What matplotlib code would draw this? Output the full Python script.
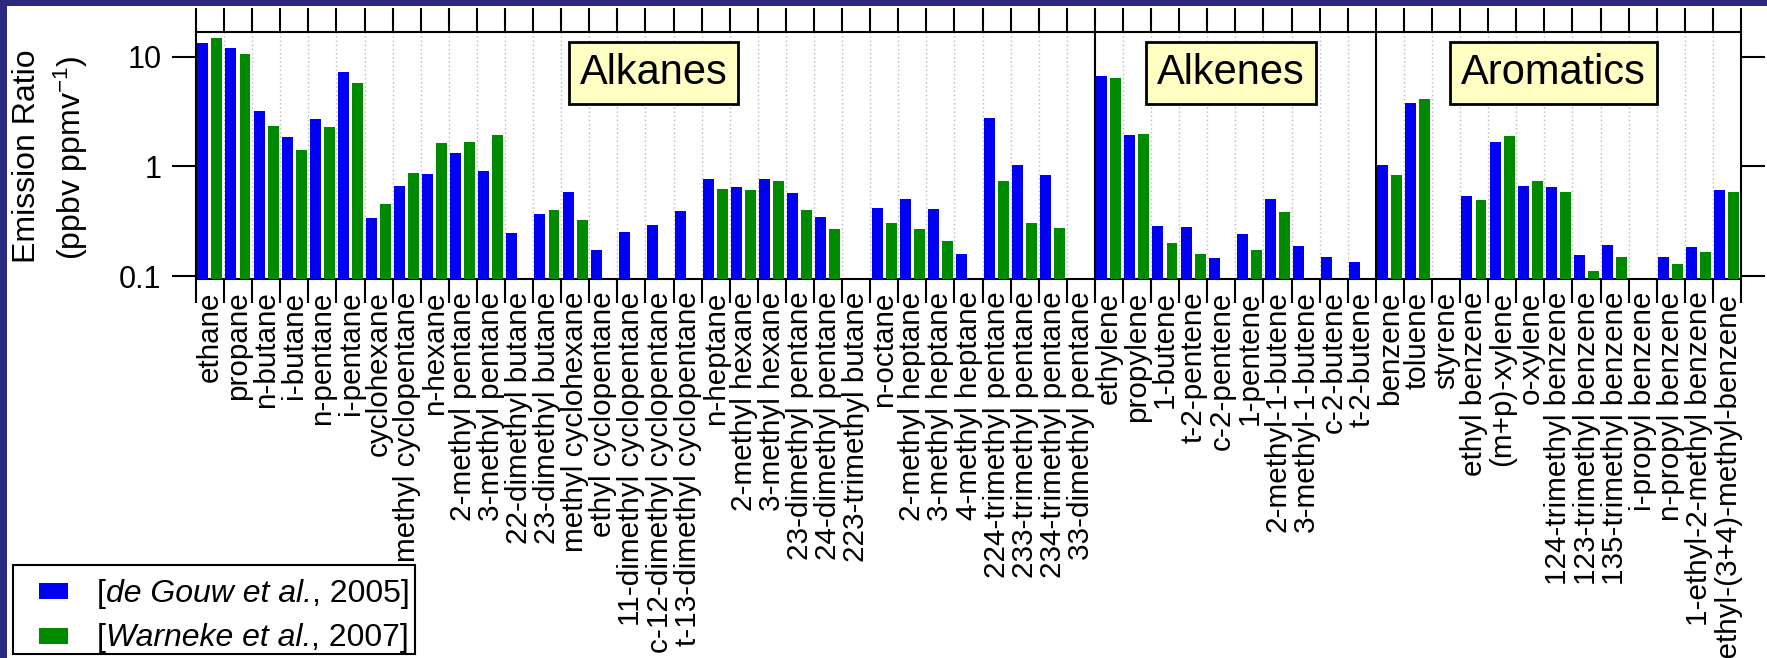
import matplotlib
matplotlib.use("Agg")
import matplotlib.pyplot as plt
import numpy as np
from matplotlib.patches import Rectangle
from matplotlib.ticker import NullLocator

alkanes = ["ethane", "propane", "n-butane", "i-butane", "n-pentane", "i-pentane",
           "cyclohexane", "methyl cyclopentane", "n-hexane", "2-methyl pentane",
           "3-methyl pentane", "22-dimethyl butane", "23-dimethyl butane",
           "methyl cyclohexane", "ethyl cyclopentane", "11-dimethyl cyclopentane",
           "c-12-dimethyl cyclopentane", "t-13-dimethyl cyclopentane", "n-heptane",
           "2-methyl hexane", "3-methyl hexane", "23-dimethyl pentane",
           "24-dimethyl pentane", "223-trimethyl butane", "n-octane",
           "2-methyl heptane", "3-methyl heptane", "4-methyl heptane",
           "224-trimethyl pentane", "233-trimethyl pentane", "234-trimethyl pentane",
           "33-dimethyl pentane"]
alkenes = ["ethylene", "propylene", "1-butene", "t-2-pentene", "c-2-pentene",
           "1-pentene", "2-methyl-1-butene", "3-methyl-1-butene", "c-2-butene",
           "t-2-butene"]
aromatics = ["benzene", "toluene", "styrene", "ethyl benzene", "(m+p)-xylene",
             "o-xylene", "124-trimethyl benzene", "123-trimethyl benzene",
             "135-trimethyl benzene", "i-propyl benzene", "n-propyl benzene",
             "1-ethyl-2-methyl benzene", "1-ethyl-(3+4)-methyl-benzene"]

nan = np.nan
de_gouw = [13.3, 12.0, 3.2, 1.86, 2.74, 7.35, 0.336, 0.667, 0.86, 1.33, 0.906,
           0.247, 0.367, 0.583, 0.174, 0.252, 0.292, 0.394, 0.766, 0.648, 0.766,
           0.567, 0.348, nan, 0.414, 0.507, 0.405, 0.16, 2.8, 1.035, 0.834, nan,
           6.66, 1.92, 0.284, 0.28, 0.146, 0.243, 0.507, 0.187, 0.15, 0.134,
           1.04, 3.83, nan, 0.54, 1.69, 0.657, 0.644, 0.154, 0.19, nan, 0.148,
           0.184, 0.608]
warneke = [15.0, 10.6, 2.35, 1.41, 2.27, 5.8, 0.45, 0.88, 1.63, 1.66, 1.94,
           nan, 0.403, 0.322, nan, nan, nan, nan, 0.617, 0.604, 0.73,
           0.397, 0.267, nan, 0.304, 0.267, 0.209, nan, 0.73, 0.304, 0.274, nan,
           6.48, 2.0, 0.201, 0.16, nan, 0.174, 0.381, nan, nan, nan,
           0.84, 4.14, nan, 0.497, 1.9, 0.74, 0.579, 0.112, 0.15, nan, 0.129,
           0.167, 0.579]

groups = ["Alkanes", "Alkenes", "Aromatics"]
# legend text pieces: (text, font style)
legend_parts = [
    [("[", "normal"), ("de Gouw et al.", "italic"), (", 2005]", "normal")],
    [("[", "normal"), ("Warneke et al.", "italic"), (", 2007]", "normal")],
]

names = alkanes + alkenes + aromatics
n = len(names)
x = np.arange(n)

plt.rcParams["font.family"] = "Liberation Sans"
plt.rcParams["mathtext.fontset"] = "custom"
plt.rcParams["mathtext.rm"] = "Liberation Sans"
plt.rcParams["mathtext.it"] = "Liberation Sans:italic"

BLUE = "#0000F2"
GREEN = "#008A00"

W, H = 1767, 658
fig = plt.figure(figsize=(W / 100, H / 100), dpi=100)
fig.patch.set_facecolor("#2B2A80")


def fx(px):
    return px / W


def fy(py):
    return 1 - py / H


fig.add_artist(Rectangle((fx(7), 0), 1, fy(6), transform=fig.transFigure,
                         facecolor="white", edgecolor="none", zorder=0))

ax = fig.add_axes([fx(196), fy(279), (1741 - 196) / W, (279 - 32) / H])

width = 0.39
ax.bar(x + 0.245, de_gouw, width, color=BLUE, zorder=3)
ax.bar(x + 0.745, warneke, width, color=GREEN, zorder=3)

ax.set_yscale("log")
ax.set_xlim(0, n)
ax.set_ylim(0.0939, 16.9)
ax.set_yticks([0.1, 1, 10])
ax.set_yticklabels(["0.1", "1", "10"])
ax.yaxis.set_minor_locator(NullLocator())

ax.set_xticks(np.arange(n + 1))
ax.set_xticklabels([])
ax.set_xticks(x + 0.5, minor=True)
ax.set_xticklabels(names, minor=True, rotation=90, fontsize=21.3)

ax.tick_params(axis="x", which="major", top=True, bottom=True, direction="out",
               length=17, width=1.5)
ax.tick_params(axis="x", which="minor", length=0, pad=9)
ax.tick_params(axis="y", which="major", left=True, right=True, direction="out",
               length=17, width=1.5, labelsize=22, pad=8)
for s in ax.spines.values():
    s.set_linewidth(1.5)

# dotted category dividers, solid group dividers
for b in range(1, n):
    ax.axvline(b, color="#b8b8b8", ls=(0, (1, 2)), lw=1, zorder=1)
edges = np.cumsum([len(alkanes), len(alkenes)])
for e in edges:
    ax.axvline(e, color="black", lw=1.5, zorder=4)

box_x = [16.29, 36.85, 48.33]
for gx, g in zip(box_x, groups):
    ax.text(gx, 0.834, g, transform=ax.get_xaxis_transform(), ha="center",
            va="center", fontsize=30, zorder=5,
            bbox=dict(boxstyle="square,pad=0.26", facecolor="#FFFFC4",
                      edgecolor="black", linewidth=2))

fig.text(fx(27), fy(156), "Emission Ratio", rotation=90, ha="center",
         va="center", fontsize=23)
fig.text(fx(71), fy(158), r"(ppbv ppmv$^{-1}$)", rotation=90, ha="center",
         va="center", fontsize=23)

# legend drawn by hand so italic and upright text can share a line
fig.add_artist(Rectangle((fx(13), fy(654)), (415 - 13) / W, (654 - 565) / H,
                         transform=fig.transFigure, facecolor="white",
                         edgecolor="black", linewidth=1.5, zorder=5))
renderer = fig.canvas.get_renderer()
for (sq_top, base), col, parts in zip([(583, 602), (628, 646)], [BLUE, GREEN],
                                      legend_parts):
    fig.add_artist(Rectangle((fx(39), fy(sq_top + 16)), 29 / W, 16 / H,
                             transform=fig.transFigure, facecolor=col,
                             edgecolor="none", zorder=6))
    xx = 97
    for txt, style in parts:
        t = fig.text(fx(xx), fy(base), txt, fontsize=23, style=style,
                     ha="left", va="baseline", zorder=6)
        xx += t.get_window_extent(renderer).width

fig.savefig("out.png", dpi=100, facecolor=fig.get_facecolor())
